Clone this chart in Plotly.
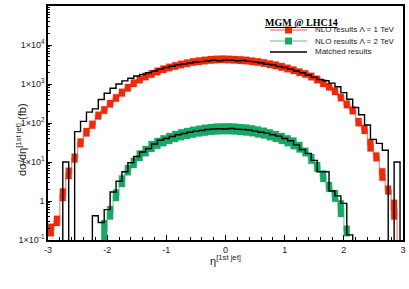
import plotly.graph_objects as go

# ---------------- data ----------------
red_eta = [-2.95, -2.85, -2.75, -2.65, -2.55, -2.45, -2.35, -2.25, -2.15, -2.05,
           -1.95, -1.85, -1.75, -1.65, -1.55, -1.45, -1.35, -1.25, -1.15, -1.05,
           -0.95, -0.85, -0.75, -0.65, -0.55, -0.45, -0.35, -0.25, -0.15, -0.05,
           0.05, 0.15, 0.25, 0.35, 0.45, 0.55, 0.65, 0.75, 0.85, 0.95,
           1.05, 1.15, 1.25, 1.35, 1.45, 1.55, 1.65, 1.75, 1.85, 1.95,
           2.05, 2.15, 2.25, 2.35, 2.45, 2.55, 2.65, 2.75, 2.85, 2.95]
red_val = [0.18, 0.31, 1.45, 5.1, 12.6, 31, 58, 90, 155, 215,
           310, 440, 600, 800, 1050, 1300, 1550, 1800, 2100, 2400,
           2650, 2900, 3150, 3400, 3650, 3850, 4000, 4150, 4250, 4300,
           4250, 4200, 4100, 4000, 3850, 3650, 3450, 3200, 3000, 2750,
           2500, 2250, 2000, 1800, 1550, 1300, 1050, 850, 650, 450,
           300, 210, 105, 68, 27, 13.5, 4.8, 1.9, 0.6, 0.02]
red_unc = [1.45, 1.35, 1.45, 1.4, 1.3, 1.3, 1.28, 1.27, 1.26, 1.25,
           1.25, 1.25, 1.25, 1.25, 1.25, 1.25, 1.25, 1.25, 1.25, 1.25,
           1.25, 1.25, 1.25, 1.25, 1.25, 1.25, 1.25, 1.25, 1.25, 1.25,
           1.25, 1.25, 1.25, 1.25, 1.25, 1.25, 1.25, 1.25, 1.25, 1.25,
           1.25, 1.25, 1.25, 1.25, 1.25, 1.25, 1.25, 1.25, 1.25, 1.25,
           1.25, 1.26, 1.28, 1.3, 1.45, 1.3, 1.45, 1.3, 1.8, 1.5]

green_eta = [-2.05, -1.95, -1.85, -1.75, -1.65, -1.55, -1.45, -1.35, -1.25, -1.15,
             -1.05, -0.95, -0.85, -0.75, -0.65, -0.55, -0.45, -0.35, -0.25, -0.15,
             -0.05, 0.05, 0.15, 0.25, 0.35, 0.45, 0.55, 0.65, 0.75, 0.85,
             0.95, 1.05, 1.15, 1.25, 1.35, 1.45, 1.55, 1.65, 1.75, 1.85,
             1.95, 2.05]
green_val = [0.18, 0.5, 1.4, 3.2, 6.2, 9.5, 14.5, 19, 25, 30,
             35, 40, 45, 50, 54, 58, 62, 65, 68, 70,
             71, 71, 70, 68, 66, 63, 59, 55, 50, 45,
             40, 35, 30, 24, 18, 12, 7.5, 4.3, 2.3, 1.35,
             0.64, 0.17]
green_unc = [1.8, 1.48, 1.41, 1.41, 1.36, 1.36, 1.36, 1.36, 1.38, 1.38,
             1.38, 1.38, 1.38, 1.38, 1.38, 1.38, 1.38, 1.38, 1.38, 1.38,
             1.38, 1.38, 1.38, 1.38, 1.38, 1.38, 1.38, 1.38, 1.38, 1.38,
             1.38, 1.38, 1.41, 1.36, 1.28, 1.34, 1.34, 1.41, 1.34, 1.41,
             1.64, 1.37]

# matched results (histogram, bin edges shifted by half a bin)
m1_eta = [-3.0, -2.9, -2.8, -2.7, -2.6, -2.5, -2.4, -2.3, -2.2, -2.1,
          -2.0, -1.9, -1.8, -1.7, -1.6, -1.5, -1.4, -1.3, -1.2, -1.1,
          -1.0, -0.9, -0.8, -0.7, -0.6, -0.5, -0.4, -0.3, -0.2, -0.1,
          0.0, 0.1, 0.2, 0.3, 0.4, 0.5, 0.6, 0.7, 0.8, 0.9,
          1.0, 1.1, 1.2, 1.3, 1.4, 1.5, 1.6, 1.7, 1.8, 1.9,
          2.0, 2.1, 2.2, 2.3, 2.4, 2.5, 2.6, 2.7, 2.8, 2.9, 3.0]
m1_val = [0, 0, 0, 10, 0, 60, 110, 190, 230, 400,
          580, 780, 1000, 1200, 1400, 1600, 1750, 1950, 2150, 2400,
          2650, 2850, 3100, 3250, 3450, 3650, 3750, 3900, 4050, 3950,
          4100, 4050, 3950, 4000, 3800, 3700, 3500, 3200, 3100, 2800,
          2650, 2400, 2150, 1950, 1700, 1500, 1300, 1210, 1050, 850,
          600, 405, 250, 163, 89, 38, 30, 20, 0, 10, 0]

m2_eta = [-2.3, -2.2, -2.1, -2.0, -1.9, -1.8, -1.7, -1.6, -1.5, -1.4, -1.3,
          -1.2, -1.1, -1.0, -0.9, -0.8, -0.7, -0.6, -0.5, -0.4, -0.3,
          -0.2, -0.1, 0.0, 0.1, 0.2, 0.3, 0.4, 0.5, 0.6, 0.7,
          0.8, 0.9, 1.0, 1.1, 1.2, 1.3, 1.4, 1.5, 1.6, 1.7,
          1.8, 1.9, 2.0, 2.1, 2.2]
m2_val = [0, 0.42, 0.28, 0.6, 1.7, 3.2, 5.6, 9.6, 13.8, 18, 22,
          29, 36, 40, 45, 50, 54, 58, 62, 64, 68,
          70, 71, 70, 72, 69, 68, 66, 62, 58, 55,
          50, 46, 40, 35, 27.5, 21, 16.6, 11, 5.6, 5.6,
          1.8, 1.35, 0.87, 0.135, 0]

y_tickvals = [0.1, 1, 10, 100, 1000, 10000, 100000]
y_ticktext = ["1×10<sup>-1</sup>", "1", "1×10<sup>1</sup>", "1×10<sup>2</sup>",
              "1×10<sup>3</sup>", "1×10<sup>4</sup>", "1×10<sup>5</sup>"]
x_tickvals = [-3, -2, -1, 0, 1, 2, 3]
x_ticktext = ["-3", "-2", "-1", "0", "1", "2", "3"]

legend_labels = ["NLO results Λ = 1 TeV", "NLO results Λ = 2 TeV", "Matched results"]

# ---------------- style ----------------
RED = "#ee2a0c"
RED_LIGHT = "#f7907f"
GREEN = "#17a865"
GREEN_LIGHT = "#8fd8b4"
BLACK = "#000000"
FONT = "Liberation Sans, Arial, sans-serif"
BIN_W = 0.1
FLOOR = 1e-3

W, H = 409, 289
L, R, T, B = 48, 6, 6, 49
PW, PH = W - L - R, H - T - B


def px(xp):
    return (xp - L) / PW


def py(yp):
    return (H - B - yp) / PH


def steps(etas, vals):
    # left edges of each bin + closing right edge, zero -> below axis
    xs = [e - BIN_W / 2 for e in etas] + [etas[-1] + BIN_W / 2]
    ys = [v if v > 0 else FLOOR for v in vals]
    ys = ys + [ys[-1]]
    return xs, ys


def boxes(etas, vals, uncs):
    # one closed rectangle per bin: [central/unc, central*unc]
    xs, ys = [], []
    for e, v, u in zip(etas, vals, uncs):
        x0, x1 = e - BIN_W / 2, e + BIN_W / 2
        lo, hi = v / u, v * u
        xs += [x0, x1, x1, x0, x0, None]
        ys += [lo, lo, hi, hi, lo, None]
    return xs, ys


fig = go.Figure()

for eta, val, unc, dark, light in [(green_eta, green_val, green_unc, GREEN, GREEN_LIGHT),
                                   (red_eta, red_val, red_unc, RED, RED_LIGHT)]:
    fig.add_trace(go.Scatter(x=eta, y=val, mode="lines",
                             line=dict(color=light, width=1.3, shape="hvh"),
                             showlegend=False, hoverinfo="skip"))
    bx, by = boxes(eta, val, unc)
    fig.add_trace(go.Scatter(x=bx, y=by, mode="lines", fill="toself",
                             fillcolor=dark, line=dict(color=dark, width=0.3),
                             connectgaps=False, showlegend=False, hoverinfo="skip"))

for eta, val in [(m2_eta, m2_val), (m1_eta, m1_val)]:
    xs, ys = steps(eta, val)
    fig.add_trace(go.Scatter(x=xs, y=ys, mode="lines",
                             line=dict(color=BLACK, width=1.4, shape="hv"),
                             showlegend=False, hoverinfo="skip"))

minor_y = [k * 10 ** e for e in range(-1, 5) for k in range(2, 10)]

fig.update_layout(
    width=W, height=H,
    margin=dict(l=L, r=R, t=T, b=B, autoexpand=False),
    paper_bgcolor="white", plot_bgcolor="white",
    showlegend=False,
    font=dict(family=FONT, size=9, color="#222"),
    xaxis=dict(range=[-3, 3], tickvals=x_tickvals, ticktext=x_ticktext,
               ticks="inside", ticklen=5, tickwidth=1, tickcolor="black",
               minor=dict(ticks="inside", dtick=0.2, tick0=0, ticklen=3, tickcolor="black"),
               showline=True, linecolor="black", linewidth=1.5, mirror=True,
               showgrid=False, zeroline=False, automargin=False,
               tickfont=dict(size=9, family=FONT, color="#222")),
    yaxis=dict(type="log", range=[-1, 5], tickvals=y_tickvals, ticktext=y_ticktext,
               ticks="inside", ticklen=4, tickwidth=1, tickcolor="black",
               minor=dict(ticks="inside", tickvals=minor_y, ticklen=2, tickcolor="black"),
               showline=True, linecolor="black", linewidth=1.5, mirror=True,
               showgrid=False, zeroline=False, automargin=False,
               tickfont=dict(size=9, family=FONT, color="#222")),
)

annotations = [
    dict(x=px(12), y=py(140), xref="paper", yref="paper", textangle=-90,
         text="dσ/dη<sup>[1st jet]</sup> (fb)", showarrow=False,
         font=dict(size=11, family=FONT, color="#222")),
    dict(x=px(225), y=py(269), xref="paper", yref="paper",
         text="η<sup>[1st jet]</sup>", showarrow=False,
         font=dict(size=11, family=FONT, color="#222")),
    dict(x=px(340), y=py(15), xref="paper", yref="paper",
         text="<b><u>MGM @ LHC14</u></b>", showarrow=False,
         font=dict(size=10, family="Liberation Serif, Times New Roman, serif", color="black")),
]
shapes = []
legend_rows = [(RED, RED_LIGHT, 30), (GREEN, GREEN_LIGHT, 41), (BLACK, BLACK, 52)]
for (dark, light, yy), label in zip(legend_rows, legend_labels):
    shapes.append(dict(type="line", xref="paper", yref="paper",
                       x0=px(270), x1=px(307), y0=py(yy), y1=py(yy),
                       line=dict(color=light, width=1.5)))
    if dark != BLACK:
        shapes.append(dict(type="rect", xref="paper", yref="paper",
                           x0=px(285), x1=px(292), y0=py(yy - 3.5), y1=py(yy + 3.5),
                           fillcolor=dark, line=dict(width=0)))
    annotations.append(dict(x=px(313), y=py(yy), xref="paper", yref="paper",
                            xanchor="left", yanchor="middle", text=label,
                            showarrow=False,
                            font=dict(size=8, family=FONT, color="#222")))

fig.update_layout(annotations=annotations, shapes=shapes)
fig.write_html("out.html", config={"displayModeBar": False},
               post_script="document.body.style.margin='0';")
